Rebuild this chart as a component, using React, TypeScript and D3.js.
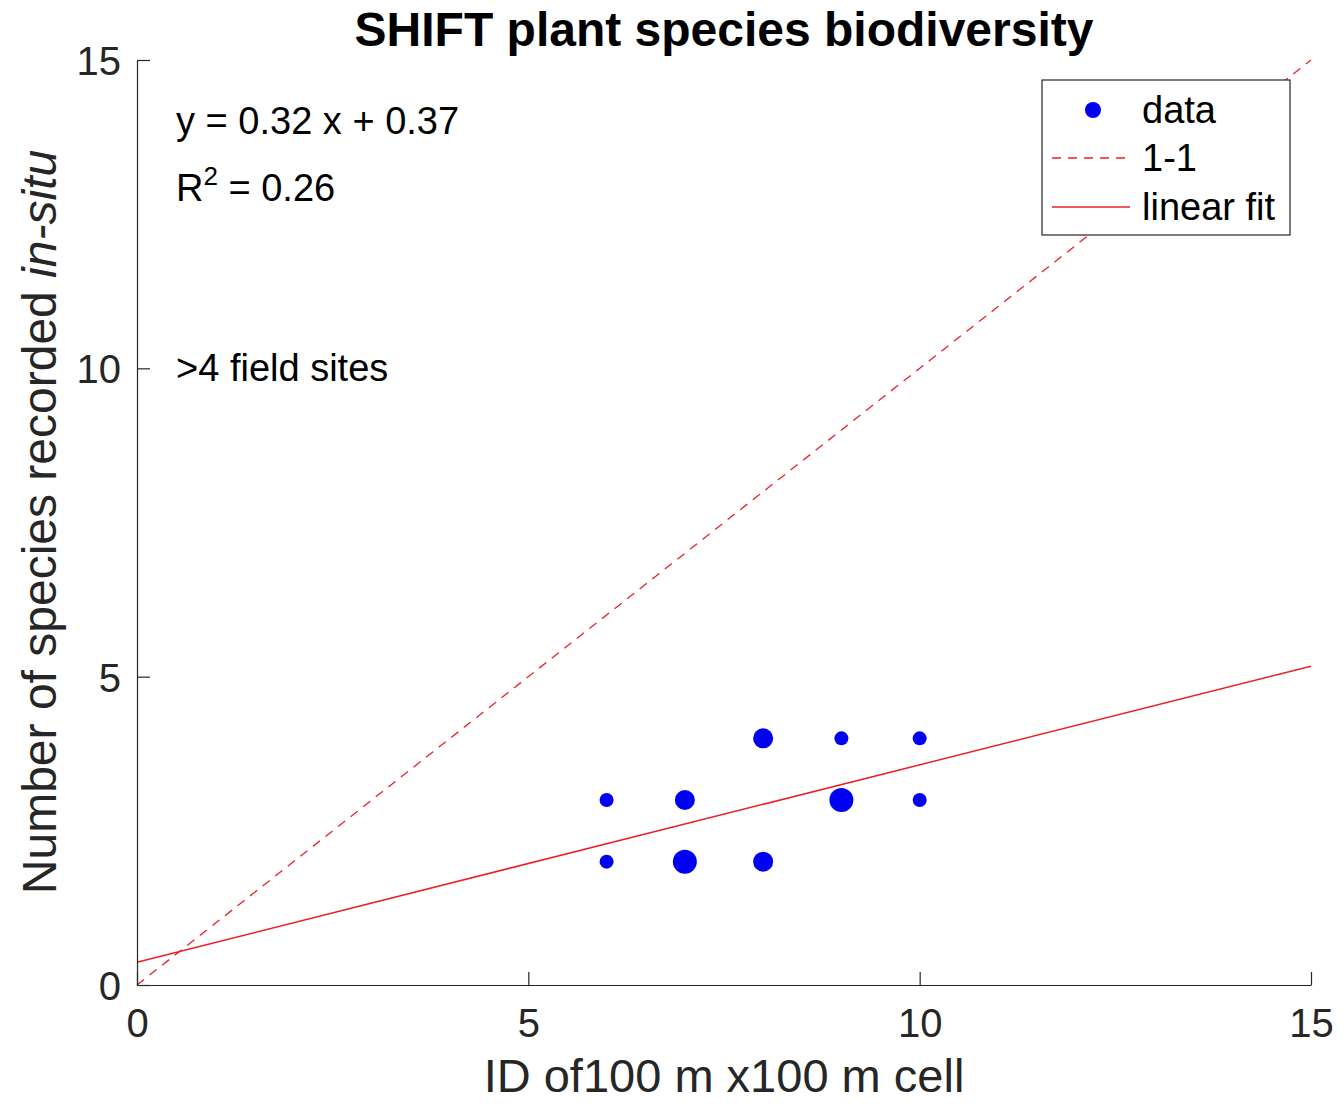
import React, { useEffect, useRef } from "react";
import * as d3 from "d3";

// data
const cellIds = [6, 6, 7, 7, 8, 8, 9, 9, 10, 10];
const speciesCounts = [3, 2, 3, 2, 4, 2, 4, 3, 4, 3];
const overlap = [1, 1, 2, 3, 2, 2, 1, 3, 1, 1]; // marker size class
const fitSlope = 0.32;
const fitIntercept = 0.37;
const rSquared = 0.26;
const xTicks = [0, 5, 10, 15];
const yTicks = [0, 5, 10, 15];
const legendItems = ["data", "1-1", "linear fit"];

const W = 1343;
const H = 1104;
const FONT = "'Liberation Sans', Arial, Helvetica, sans-serif";
const AXIS = "#262626";

const App = () => {
  const ref = useRef<SVGSVGElement>(null);

  useEffect(() => {
    const svg = d3.select(ref.current);
    svg.selectAll("*").remove();

    const x = d3.scaleLinear().domain([0, 15]).range([137, 1311]);
    const y = d3.scaleLinear().domain([0, 15]).range([985, 60]);
    const r = d3.scaleOrdinal<number, number>().domain([1, 2, 3]).range([7, 10, 12]);

    const g = svg.append("g").style("font-family", FONT);

    // 1-1 line
    g.append("line")
      .attr("x1", x(0)).attr("y1", y(0))
      .attr("x2", x(15)).attr("y2", y(15))
      .attr("stroke", "#e8202a").attr("stroke-width", 1.3)
      .attr("stroke-dasharray", "9,7");

    // linear fit
    const fit = d3.line<number>().x((d) => x(d)).y((d) => y(fitSlope * d + fitIntercept));
    g.append("path")
      .attr("d", fit([0, 15]))
      .attr("fill", "none")
      .attr("stroke", "#e8202a").attr("stroke-width", 1.5);

    // points
    g.selectAll("circle.pt")
      .data(cellIds)
      .enter()
      .append("circle")
      .attr("class", "pt")
      .attr("cx", (d) => x(d))
      .attr("cy", (_, i) => y(speciesCounts[i]))
      .attr("r", (_, i) => r(overlap[i]))
      .attr("fill", "#0000f5");

    // axes (MATLAB style, inward ticks, no box)
    const xAxis = d3.axisBottom(x).tickValues(xTicks).tickSizeInner(-13).tickSizeOuter(0).tickFormat(d3.format("d"));
    const gx = g.append("g").attr("transform", `translate(0,${y(0)})`).call(xAxis);
    gx.select(".domain").attr("stroke", AXIS).attr("stroke-width", 1.2);
    gx.selectAll(".tick line").attr("stroke", AXIS).attr("stroke-width", 1.2);
    gx.selectAll(".tick text")
      .attr("y", 24).attr("dy", "0.71em")
      .attr("fill", AXIS).style("font-size", "40px").style("font-family", FONT);

    const yAxis = d3.axisLeft(y).tickValues(yTicks).tickSizeInner(-13).tickSizeOuter(0).tickFormat(d3.format("d"));
    const gy = g.append("g").attr("transform", `translate(${x(0)},0)`).call(yAxis);
    gy.select(".domain").attr("stroke", AXIS).attr("stroke-width", 1.2);
    gy.selectAll(".tick line").attr("stroke", AXIS).attr("stroke-width", 1.2);
    gy.selectAll(".tick text")
      .attr("x", -16).attr("dy", "0.36em")
      .attr("fill", AXIS).style("font-size", "40px").style("font-family", FONT);

    // title
    g.append("text")
      .attr("x", 724).attr("y", 46)
      .attr("text-anchor", "middle")
      .style("font-size", "48px").style("font-weight", "bold")
      .attr("fill", "#000")
      .text("SHIFT plant species biodiversity");

    // axis labels
    g.append("text")
      .attr("x", 724).attr("y", 1092)
      .attr("text-anchor", "middle")
      .style("font-size", "47px").attr("fill", AXIS)
      .text("ID of100 m x100 m cell");

    const yl = g.append("text")
      .attr("transform", `translate(56,522) rotate(-90)`)
      .attr("text-anchor", "middle")
      .style("font-size", "48px").attr("fill", AXIS);
    yl.append("tspan").text("Number of species recorded ");
    yl.append("tspan").style("font-style", "italic").text("in-situ");

    // annotations
    g.append("text").attr("x", 176).attr("y", 134)
      .style("font-size", "38px").attr("fill", "#000")
      .text(`y = ${fitSlope} x + ${fitIntercept}`);
    const rt = g.append("text").attr("x", 176).attr("y", 201)
      .style("font-size", "38px").attr("fill", "#000");
    rt.append("tspan").text("R");
    rt.append("tspan").attr("dy", -16).style("font-size", "26px").text("2");
    rt.append("tspan").attr("dy", 16).text(` = ${rSquared}`);
    g.append("text").attr("x", 176).attr("y", 381)
      .style("font-size", "38px").attr("fill", "#000")
      .text(">4 field sites");

    // legend
    const lg = g.append("g");
    lg.append("rect")
      .attr("x", 1042).attr("y", 80).attr("width", 248).attr("height", 155)
      .attr("fill", "#fff").attr("stroke", AXIS).attr("stroke-width", 1.2);
    const rows = [110, 158, 207];
    legendItems.forEach((name, i) => {
      const cy = rows[i];
      if (i === 0) {
        lg.append("circle").attr("cx", 1093).attr("cy", cy).attr("r", 8).attr("fill", "#0000f5");
      } else {
        lg.append("line")
          .attr("x1", 1052).attr("x2", 1130).attr("y1", cy).attr("y2", cy)
          .attr("stroke", "#e8202a").attr("stroke-width", 1.3)
          .attr("stroke-dasharray", i === 1 ? "9,7" : null);
      }
      lg.append("text").attr("x", 1142).attr("y", cy + 13)
        .style("font-size", "38px").attr("fill", "#000")
        .text(name);
    });
  }, []);

  return (
    <div style={{ position: "absolute", left: 0, top: 0 }}>
      <svg ref={ref} width={W} height={H} style={{ display: "block", background: "#fff" }} />
    </div>
  );
};

export default App;
